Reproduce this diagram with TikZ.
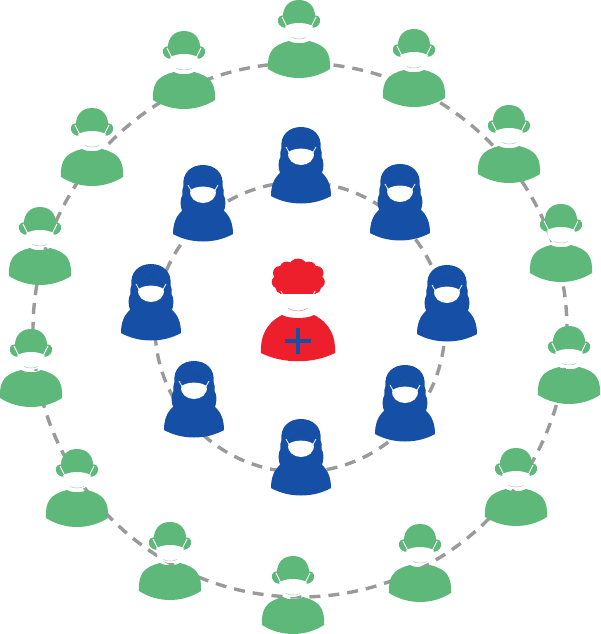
\documentclass[tikz,border=0pt]{standalone}
\definecolor{pgreen}{HTML}{5DB87A}
\definecolor{pblue}{HTML}{1650A6}
\definecolor{pbluedk}{HTML}{1A4A96}
\definecolor{pred}{HTML}{EE1F2D}
\definecolor{ring}{HTML}{9A9A9A}
\tikzset{
  x=1pt,y=-1pt,
  ringline/.style={draw=ring,line width=3.4pt,dash pattern=on 11pt off 8pt,fill=none},
  maskfill/.style={fill=white},
  greenperson/.pic={
    % ears
    \fill[pgreen] (-14,16) .. controls (-18,14) and (-22,17) .. (-21,22) .. controls (-20,26) and (-16,28) .. (-12,28) -- cycle;
    \fill[pgreen] (14,16) .. controls (18,14) and (22,17) .. (21,22) .. controls (20,26) and (16,28) .. (12,28) -- cycle;
    % head
    \fill[pgreen] (0,0) .. controls (-11,0) and (-16,8) .. (-16,16) .. controls (-16,27) and (-8,34) .. (0,34) .. controls (8,34) and (16,27) .. (16,16) .. controls (16,8) and (11,0) .. (0,0) -- cycle;
    % body
    \fill[pgreen] (-31,69) .. controls (-32,52) and (-26,45) .. (-10,41) .. controls (-5,44) and (5,44) .. (10,41) .. controls (26,45) and (32,52) .. (31,69) .. controls (12,81) and (-12,81) .. (-31,69) -- cycle;
    % mask
    \draw[white,line width=.9pt] (-17,17) -- (-12,27);
    \draw[white,line width=.9pt] (17,17) -- (12,27);
    \fill[maskfill] (-13.5,26) .. controls (-6,22) and (6,22) .. (13.5,26) .. controls (15,35) and (7,41) .. (0,41) .. controls (-7,41) and (-15,35) .. (-13.5,26) -- cycle;
    \draw[pgreen!60,line width=.5pt] (-7,37.5) .. controls (-3,39.5) and (3,39.5) .. (7,37.5);
  },
  blueperson/.pic={
    % hair and body
    \fill[pblue] (-30,69) .. controls (-30,59) and (-27,51) .. (-21,46)
      .. controls (-23,40) and (-23,34) .. (-20.5,30)
      .. controls (-21.5,27) and (-20.5,24) .. (-19.5,21)
      .. controls (-21,8) and (-12,0) .. (0,0)
      .. controls (12,0) and (21,8) .. (19.5,21)
      .. controls (20.5,24) and (21.5,27) .. (20.5,30)
      .. controls (23,34) and (23,40) .. (21,46)
      .. controls (27,51) and (30,59) .. (30,69)
      .. controls (12,79) and (-12,79) .. (-30,69) -- cycle;
    \draw[pbluedk,line width=.6pt] (-11,21) .. controls (-6,18) and (-3,14) .. (0,11) .. controls (3,14) and (6,18) .. (11,21);
    % mask
    \draw[white,line width=.8pt] (-15,20) -- (-11,27);
    \draw[white,line width=.8pt] (15,20) -- (11,27);
    \fill[maskfill] (-12.5,25) .. controls (-6,20.5) and (6,20.5) .. (12.5,25) .. controls (14.5,33) and (7,38) .. (0,38) .. controls (-7,38) and (-14.5,33) .. (-12.5,25) -- cycle;
  },
  redperson/.pic={
    % hair: overlapping curls
    \fill[pred] (0,9) circle[radius=9.5];
    \fill[pred] (-11,10) circle[radius=7.5];
    \fill[pred] (11,10) circle[radius=7.5];
    \fill[pred] (-18,14) circle[radius=7];
    \fill[pred] (18.5,14) circle[radius=7];
    \fill[pred] (-20,23) circle[radius=6.3];
    \fill[pred] (20.5,23) circle[radius=6.3];
    \fill[pred] (-17,29) circle[radius=5.5];
    \fill[pred] (17.5,29) circle[radius=5.5];
    \fill[pred] (-18,10) rectangle (18,35);
    % body
    \fill[pred] (-37,94) .. controls (-38,78) and (-32,64) .. (-16,56) .. controls (-9,60) and (9,60) .. (16,56) .. controls (32,64) and (38,78) .. (37,94) .. controls (15,105) and (-15,105) .. (-37,94) -- cycle;
    % mask
    \draw[white,line width=.9pt] (-17,32) -- (-13,41);
    \draw[white,line width=.9pt] (17,32) -- (13,41);
    \fill[maskfill] (-15,39) .. controls (-7,34.5) and (7,34.5) .. (15,39) .. controls (16,50) and (8,58.5) .. (0,58.5) .. controls (-8,58.5) and (-16,50) .. (-15,39) -- cycle;
    \draw[pred!50,line width=.5pt] (-10,49) .. controls (-4,53) and (4,53) .. (10,49);
    % cross
    \fill[pblue] (-12.7,80.3) rectangle (12.7,83.7);
    \fill[pblue] (-1.8,69) rectangle (1.8,95);
  }
}
\begin{document}
\begin{tikzpicture}
\useasboundingbox (0,0) rectangle (600,634);
\draw[ringline] (300,330) circle[radius=267];
\draw[ringline] (300,327) circle[radius=145];
\foreach \n/\px/\py in {a/299/0,b/184/31,c/414/29,d/92/108,e/509/105,f/40/207,g/561/204,h/31/329,i/569/326,j/77/449,k/516/448,l/170/522,m/420/524,n/293/556}
  \pic (green\n) at (\px,\py) {greenperson};
\foreach \n/\px/\py in {a/301/127,b/203/165,c/400/164,d/151/264,e/447/265,f/194/361,g/405/365,h/301/419}
  \pic (blue\n) at (\px,\py) {blueperson};
\pic (center) at (298,259) {redperson};
\end{tikzpicture}
\end{document}
